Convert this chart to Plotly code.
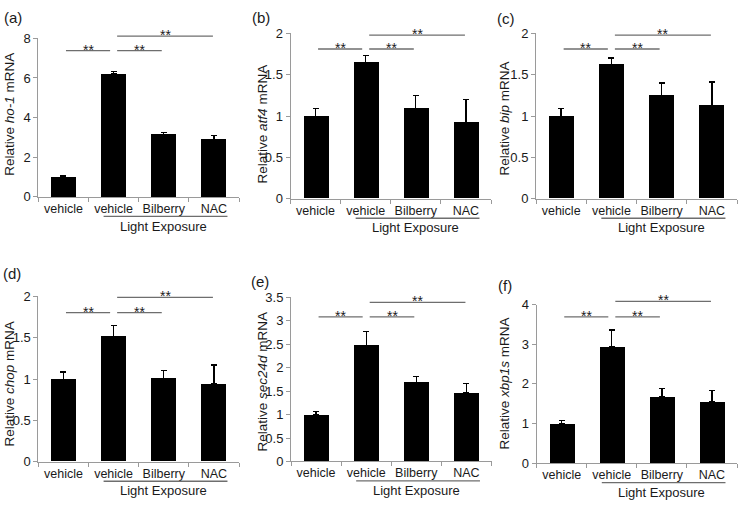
import plotly.graph_objects as go

W, H = 740, 508

categories = ["vehicle", "vehicle", "Bilberry", "NAC"]
group_label = "Light Exposure"
panel_labels = ["(a)", "(b)", "(c)", "(d)", "(e)", "(f)"]
genes = ["ho-1", "atf4", "bip", "chop", "sec24d", "xbp1s"]

ho1_mean = [1.0, 6.2, 3.15, 2.88]
ho1_err = [0.08, 0.13, 0.11, 0.23]
atf4_mean = [1.0, 1.65, 1.09, 0.92]
atf4_err = [0.094, 0.086, 0.16, 0.28]
bip_mean = [1.0, 1.62, 1.25, 1.13]
bip_err = [0.094, 0.085, 0.15, 0.285]
chop_mean = [1.0, 1.52, 1.01, 0.94]
chop_err = [0.086, 0.125, 0.094, 0.23]
sec24d_mean = [0.99, 2.48, 1.68, 1.46]
sec24d_err = [0.07, 0.29, 0.14, 0.21]
xbp1s_mean = [1.0, 2.95, 1.67, 1.55]
xbp1s_err = [0.07, 0.41, 0.22, 0.29]

y_max = [8, 2, 2, 2, 3.5, 4]
y_dtick = [2, 0.5, 0.5, 0.5, 0.5, 1]
sig_mark = "**"

means = [ho1_mean, atf4_mean, bip_mean, chop_mean, sec24d_mean, xbp1s_mean]
errs = [ho1_err, atf4_err, bip_err, chop_err, sec24d_err, xbp1s_err]

# ---------- layout geometry (pixels) ----------
geom = [
    (38.4, 239.0, 32.3, 195.7),
    (290.5, 491.0, 27.3, 197.7),
    (536.0, 737.0, 27.3, 197.7),
    (38.4, 239.0, 298.3, 468.7),
    (291.0, 491.5, 299.3, 468.3),
    (536.7, 737.0, 306.7, 470.0),
]
sig_off = [(12.7, -2.3), (16.0, 1.7), (16.0, 1.7), (16.7, 1.0), (20.0, 5.0), (12.6, -3.4)]
title_pos = [(10, 111), (262, 121), (505, 115), (10, 389), (263, 386), (505, 388)]
label_pos = [(2, 11), (250, 11), (495, 12), (1, 275), (249, 283), (496, 287)]

FONT = "Liberation Sans, Arial, sans-serif"
AX_COL = "#9a9a9a"
TXT = "#1a1a1a"
SIG_COL = "#6e6e6e"


def px(x):
    return x / W


def py(y):
    return 1 - y / H


fig = go.Figure()
shapes = []
annotations = []

for i in range(6):
    x0, x1, yt, yb = geom[i]
    n = "" if i == 0 else str(i + 1)
    xa, ya = "x" + n, "y" + n
    fig.add_trace(go.Bar(
        x=list(range(len(categories))), y=means[i], width=0.5,
        marker=dict(color="black", line=dict(width=0)),
        error_y=dict(type="data", symmetric=False, array=errs[i],
                     arrayminus=[0] * len(errs[i]), color="black",
                     thickness=1.3, width=3),
        xaxis=xa, yaxis=ya, showlegend=False, hoverinfo="skip"))

    fig.layout["xaxis" + n] = dict(
        domain=[px(x0), px(x1)], anchor=ya, range=[-0.5, len(categories) - 0.5],
        tickvals=list(range(len(categories))), ticktext=categories,
        ticks="", showline=True, linecolor=AX_COL, linewidth=1,
        showgrid=False, zeroline=False, fixedrange=True,
        tickfont=dict(family=FONT, size=12.5, color=TXT),
        minor=dict(tickvals=[k - 0.5 for k in range(len(categories) + 1)],
                   ticks="outside", ticklen=4, tickcolor=AX_COL, tickwidth=1,
                   showgrid=False))
    fig.layout["yaxis" + n] = dict(
        domain=[py(yb), py(yt)], anchor=xa, range=[0, y_max[i]],
        dtick=y_dtick[i], tick0=0, ticks="outside", ticklen=4, tickcolor=AX_COL,
        showline=True, linecolor=AX_COL, linewidth=1, showgrid=False,
        zeroline=False, fixedrange=True,
        tickfont=dict(family=FONT, size=13, color=TXT))

    cw = (x1 - x0) / len(categories)

    def cx(u):
        return x0 + (u + 0.5) * cw

    lo, hi = sig_off[i]
    for (ua, ub, off) in [(0.05, 0.93, lo), (1.07, 1.96, lo), (1.07, 2.98, hi)]:
        yy = yt + off
        shapes.append(dict(type="line", xref="paper", yref="paper",
                           x0=px(cx(ua)), x1=px(cx(ub)), y0=py(yy), y1=py(yy),
                           line=dict(color=SIG_COL, width=1.3)))
        annotations.append(dict(text=sig_mark, xref="paper", yref="paper",
                                x=px((cx(ua) + cx(ub)) / 2), y=py(yy - 1),
                                xanchor="center", yanchor="middle", showarrow=False,
                                font=dict(family=FONT, size=14, color=TXT)))
    yl = yb + 20
    shapes.append(dict(type="line", xref="paper", yref="paper",
                       x0=px(cx(0.8)), x1=px(cx(3.27)), y0=py(yl), y1=py(yl),
                       line=dict(color=SIG_COL, width=1.3)))
    annotations.append(dict(text=group_label, xref="paper", yref="paper",
                            x=px((cx(1) + cx(3)) / 2), y=py(yb + 30),
                            xanchor="center", yanchor="middle", showarrow=False,
                            font=dict(family=FONT, size=13, color=TXT)))
    tx, ty = title_pos[i]
    annotations.append(dict(text="Relative <i>%s</i> mRNA" % genes[i],
                            xref="paper", yref="paper", x=px(tx), y=py(ty),
                            xanchor="center", yanchor="middle", textangle=-90,
                            showarrow=False,
                            font=dict(family=FONT, size=13.5, color=TXT)))
    lx, ly = label_pos[i]
    annotations.append(dict(text=panel_labels[i], xref="paper", yref="paper",
                            x=px(lx), y=py(ly), xanchor="left", yanchor="middle",
                            showarrow=False,
                            font=dict(family=FONT, size=15, color=TXT)))

fig.update_layout(
    width=W, height=H, margin=dict(l=0, r=0, t=0, b=0),
    paper_bgcolor="white", plot_bgcolor="white",
    shapes=shapes, annotations=annotations, bargap=0,
    font=dict(family=FONT, color=TXT))

fig.write_html("out.html", config={"displayModeBar": False},
               post_script="document.body.style.margin='0';document.body.style.overflow='hidden';")
